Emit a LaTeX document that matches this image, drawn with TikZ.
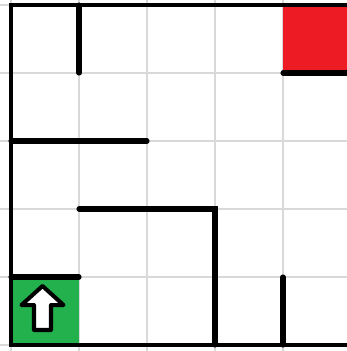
\documentclass[tikz,border=0pt]{standalone}
\definecolor{startgreen}{HTML}{22B14C}
\definecolor{goalred}{HTML}{ED1C24}
\begin{document}
\begin{tikzpicture}[x=1.36cm, y=1.36cm,
    gridline/.style={black!15, line width=0.6pt},
    outerwall/.style={line width=2.2pt, line cap=rect},
    wall/.style={line width=2.9pt, line cap=round},
    arrowshape/.style={fill=white, draw=black, line width=2.3pt, line join=round}]
  \useasboundingbox (-0.162,-0.088) rectangle (4.941,5.074);
  \clip (-0.162,-0.088) rectangle (4.941,5.074);

  % grid
  \foreach \i in {-1,...,6} {
    \draw[gridline] (\i,-1) -- (\i,6);
    \draw[gridline] (-1,\i) -- (6,\i);
  }

  % start and goal cells
  \fill[startgreen] (0,0) rectangle (1,1);
  \fill[goalred] (4,4) rectangle (5.5,5);

  % outer walls
  \draw[outerwall] (5.5,0) -- (0,0) -- (0,5) -- (5.5,5);

  % inner walls
  \draw[wall] (1,5) -- (1,4);
  \draw[wall] (4,4) -- (5.5,4);
  \draw[wall] (0,3) -- (2,3);
  \draw[wall] (1,2) -- (3,2) -- (3,0);
  \draw[wall] (0,1) -- (1,1);
  \draw[wall] (4,1) -- (4,0);

  % agent arrow
  \draw[arrowshape] (0.463,0.868) -- (0.772,0.588) -- (0.588,0.588) -- (0.588,0.221)
    -- (0.338,0.221) -- (0.338,0.588) -- (0.154,0.588) -- cycle;
\end{tikzpicture}
\end{document}
